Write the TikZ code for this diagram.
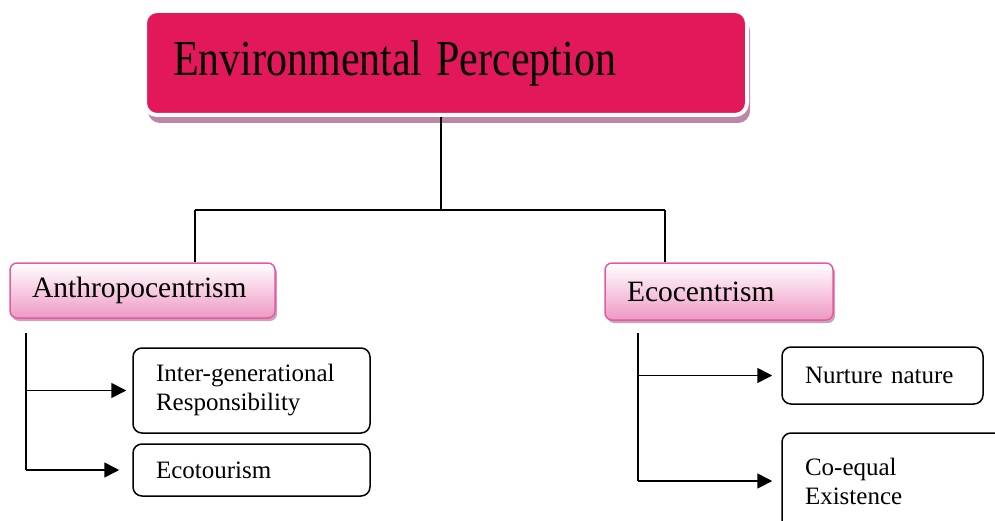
\documentclass[tikz,border=0pt]{standalone}
\usepackage{fontspec}
\setmainfont{Liberation Serif}
\usetikzlibrary{arrows.meta,positioning,calc,shadows}
\definecolor{rose}{HTML}{E2185B}
\definecolor{pinkline}{HTML}{E35A9E}
\definecolor{pinkfill}{HTML}{EE98C4}
\definecolor{mauve}{HTML}{B57A9C}
\tikzset{topbox/.style={rounded corners=12pt,fill=rose,draw=white,line width=4pt,
    minimum width=602pt,minimum height=104pt,inner xsep=28pt,inner ysep=0pt,
    text width=546pt,align=left,
    drop shadow={shadow xshift=3pt,shadow yshift=-8pt,fill=mauve,opacity=.9},
    font=\fontsize{42}{50}\selectfont},
  catbox/.style={rounded corners=7pt,draw=pinkline,line width=1.5pt,
    top color=white,bottom color=pinkfill,inner xsep=22pt,inner ysep=0pt,
    align=left,drop shadow={shadow xshift=2pt,shadow yshift=-3pt,fill=mauve,opacity=.7},
    font=\fontsize{29.5}{32}\selectfont},
  leaf/.style={rounded corners=9pt,draw=black,line width=1.5pt,fill=white,
    inner xsep=23pt,inner ysep=0pt,align=left,font=\fontsize{25}{29}\selectfont},
  wire/.style={line width=1.3pt,draw=black},
  arr/.style={line width=1.6pt,draw=black,-{Triangle[length=15pt,width=15pt]}}}
\begin{document}
\begin{tikzpicture}[x=1pt,y=1pt]
\useasboundingbox (0,0) rectangle (995,-521);
\node[topbox] (title) at (446,-63) {\scalebox{1}[1.2]{Environmental Perception}};
\node[catbox,minimum height=55pt,text width=221pt] (anthro) at (142.5,-290.5) {\raisebox{-3pt}{Anthropocentrism}};
\node[catbox,minimum height=57pt,text width=184pt] (eco) at (719,-291.5) {\raisebox{-3pt}{Ecocentrism}};
\node[leaf,minimum height=85pt,text width=191pt] (inter) at (251.5,-390.5) {Inter-generational\\Responsibility};
\node[leaf,minimum height=52pt,text width=191pt] (ecotour) at (251.5,-470) {Ecotourism};
\node[leaf,minimum height=57pt,text width=155pt] (nurture) at (882.5,-375.5) {Nurture nature};
\node[leaf,minimum height=96pt,text width=190pt] (coequal) at (900,-481) {Co-equal\\Existence};

\coordinate (hub) at (441,-210);
\coordinate (lft) at (195,-210);
\coordinate (rgt) at (665,-210);
\draw[wire] (title.south -| hub) -- (hub) (lft) -- (rgt)
  (lft) -- (anthro.north -| lft) (rgt) -- (eco.north -| rgt);

\coordinate (aL) at (26,-333);
\coordinate (eL) at (638,-333);
\draw[arr,-] (aL) -- (aL |- ecotour.west) (eL) -- (eL |- coequal.west);
\foreach \b/\g in {inter/6,ecotour/13}{
 \draw[arr,shorten >=\g pt] (aL |- \b.west) -- (\b.west);}
\foreach \b/\g in {nurture/9,coequal/9}{
 \draw[arr,shorten >=\g pt] (eL |- \b.west) -- (\b.west);}
\end{tikzpicture}
\end{document}
